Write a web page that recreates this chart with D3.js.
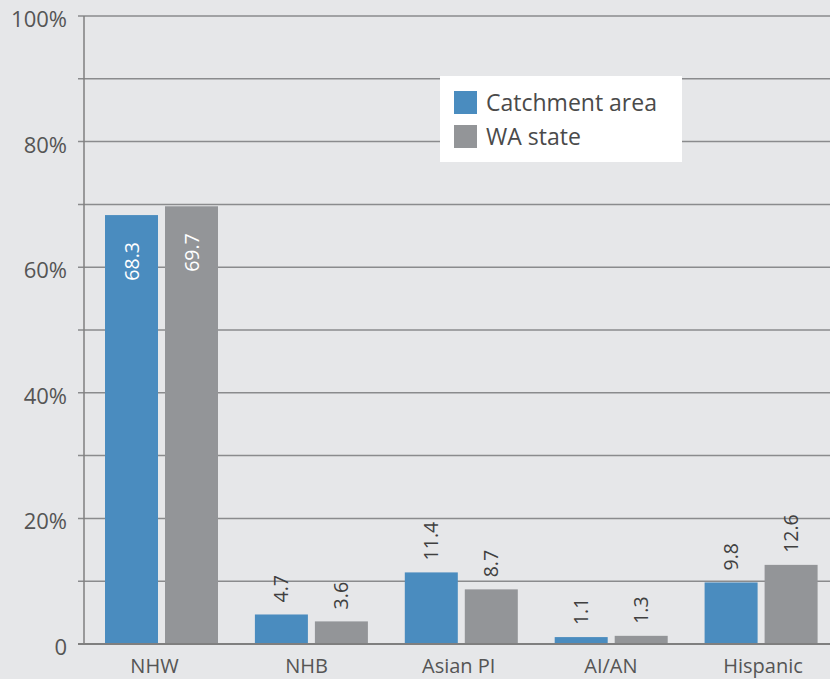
<!DOCTYPE html>
<html>
<head>
<meta charset="utf-8">
<script src="https://cdn.jsdelivr.net/npm/d3@7"></script>
<style>
  html, body { margin: 0; padding: 0; background: #e6e7e9; }
  svg { display: block; }
  text { font-family: "Open Sans", "Noto Sans", sans-serif; }
</style>
</head>
<body>
<svg id="chart" width="830" height="679"></svg>
<script>
const categories = ["NHW", "NHB", "Asian PI", "AI/AN", "Hispanic"];
const seriesNames = ["Catchment area", "WA state"];
const catchment = [68.3, 4.7, 11.4, 1.1, 9.8];
const waState = [69.7, 3.6, 8.7, 1.3, 12.6];
const yTicks = [0, 20, 40, 60, 80, 100];
const yTickLabels = ["0", "20%", "40%", "60%", "80%", "100%"];
const gridValues = [10, 20, 30, 40, 50, 60, 70, 80, 90, 100];
const colors = ["#4a8cbf", "#939598"];

const seriesValues = [catchment, waState];
const data = categories.map((c, i) => ({
  cat: c,
  vals: seriesNames.map((s, j) => ({ series: s, idx: j, value: seriesValues[j][i] }))
}));

const svg = d3.select("#chart");
const W = 830, H = 679;
const axisX = 84;
const y = d3.scaleLinear().domain([0, 100]).range([644, 16]);
const x = d3.scaleBand().domain(categories).range([86.5, 836]).paddingInner(0).paddingOuter(0);
const xs = d3.scaleBand().domain(seriesNames)
  .range([18.5, 131.5]).paddingInner(7 / 60).paddingOuter(0);
const xLabel = d3.scalePoint().domain(categories).range([154.5, 763]);

// background
svg.append("rect").attr("width", W).attr("height", H).attr("fill", "#e6e7e9");

// gridlines
svg.append("g").selectAll("line").data(gridValues).join("line")
  .attr("x1", 78).attr("x2", W)
  .attr("y1", d => y(d)).attr("y2", d => y(d))
  .attr("stroke", "#8a8b8d").attr("stroke-width", 1.5);

// bars
const groups = svg.append("g").selectAll("g").data(data).join("g")
  .attr("transform", d => `translate(${x(d.cat)},0)`);

groups.selectAll("rect").data(d => d.vals).join("rect")
  .attr("x", d => xs(d.series))
  .attr("width", xs.bandwidth())
  .attr("y", d => y(d.value))
  .attr("height", d => y(0) - y(d.value))
  .attr("fill", d => colors[d.idx]);

// value labels
groups.selectAll("text").data(d => d.vals).join("text")
  .attr("transform", d => {
    const cx = xs(d.series) + xs.bandwidth() / 2;
    const inside = d.value > 30;
    const ty = inside ? y(d.value) + 27 : y(d.value) - 12;
    return `translate(${cx + 7},${ty}) rotate(-90)`;
  })
  .attr("text-anchor", d => d.value > 30 ? "end" : "start")
  .attr("font-size", 19.5)
  .attr("fill", d => d.value > 30 ? "#ffffff" : "#404040")
  .text(d => d.value.toFixed(1));

// axis lines
svg.append("line").attr("x1", axisX).attr("x2", axisX).attr("y1", y(100)).attr("y2", y(0))
  .attr("stroke", "#7f7f7f").attr("stroke-width", 1.5);
svg.append("line").attr("x1", 78).attr("x2", W).attr("y1", y(0)).attr("y2", y(0))
  .attr("stroke", "#7f7f7f").attr("stroke-width", 2);

// y tick labels
svg.append("g").selectAll("text").data(yTicks).join("text")
  .attr("x", 67).attr("y", d => y(d) + 3)
  .attr("dy", "0.36em")
  .attr("text-anchor", "end")
  .attr("font-size", 22)
  .attr("fill", "#555555")
  .text((d, i) => yTickLabels[i]);

// x category labels
svg.append("g").selectAll("text").data(categories).join("text")
  .attr("x", d => xLabel(d))
  .attr("y", 673)
  .attr("text-anchor", "middle")
  .attr("font-size", 20)
  .attr("fill", "#555555")
  .text(d => d);

// legend
const lg = svg.append("g").attr("transform", "translate(440,76)");
lg.append("rect").attr("width", 242).attr("height", 86).attr("fill", "#ffffff");
const items = lg.selectAll("g").data(seriesNames).join("g")
  .attr("transform", (d, i) => `translate(14,${15 + i * 34})`);
items.append("rect").attr("width", 23).attr("height", 23).attr("fill", (d, i) => colors[i]);
items.append("text").attr("x", 32).attr("y", 20)
  .attr("font-size", 23).attr("fill", "#4a4a4a").text(d => d);
</script>
</body>
</html>
